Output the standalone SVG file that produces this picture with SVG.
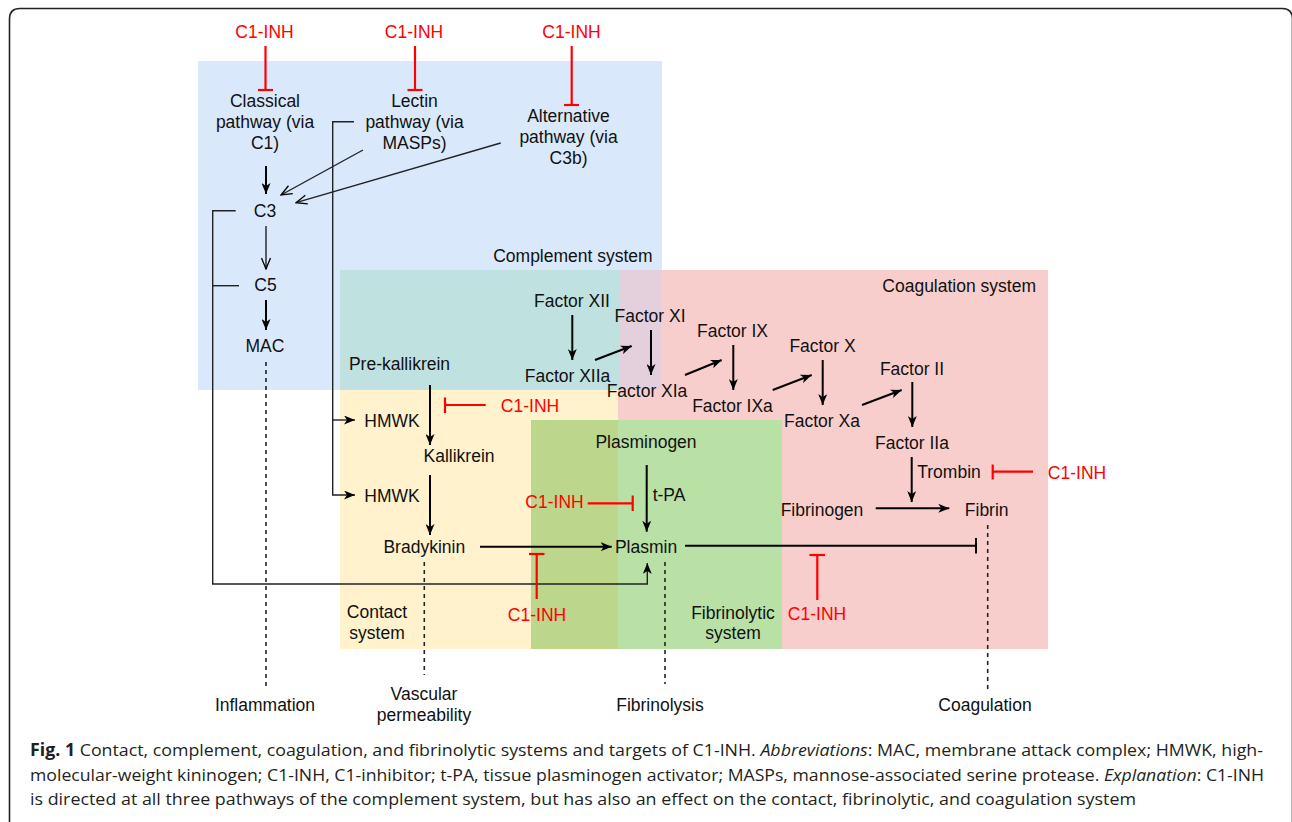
<svg xmlns="http://www.w3.org/2000/svg" width="1292" height="822" viewBox="0 0 1292 822">
<defs>
<marker id="a" viewBox="0 0 11 9" refX="11" refY="4.5" markerWidth="11" markerHeight="9" orient="auto" markerUnits="userSpaceOnUse"><path d="M0,0 L11,4.5 L0,9 L3,4.5 Z" fill="#000"/></marker>
<marker id="o" viewBox="-1 -1 13 11" refX="11" refY="4.5" markerWidth="13" markerHeight="11" orient="auto" markerUnits="userSpaceOnUse"><path d="M0,0 L11,4.5 L0,9" fill="none" stroke="#000" stroke-width="1.3"/></marker>
</defs>
<style>
.t{font-family:"Liberation Sans",Arial,sans-serif;font-size:17.5px;fill:#111;text-anchor:middle}
.r{fill:#ff0000}
.ln{stroke:#000;stroke-width:2;fill:none}
.thin{stroke:#222;stroke-width:1.4;fill:none}
.red{stroke:#ff0000;stroke-width:2.2;fill:none}
.dash{stroke:#222;stroke-width:1.6;stroke-dasharray:4,4;fill:none}
.cap{font-family:"Open Sans","Liberation Sans",sans-serif;font-size:17px;fill:#231f20}
</style>
<rect width="1292" height="822" fill="#fff"/>
<path d="M9.5,840 V19 Q9.5,8.5 20,8.5 H1282 Q1292.5,8.5 1292.5,19 V840" fill="none" stroke="#222" stroke-width="1.6"/>

<g id="regions">
<rect x="198" y="61" width="464" height="329" fill="#dae8fc"/>
<rect x="340" y="270" width="280" height="379" fill="#fff2cc"/>
<rect x="618" y="270" width="430" height="379" fill="#f8cecc"/>
<rect x="340" y="270" width="280" height="120" fill="#bfe1df"/>
<rect x="620" y="270" width="42" height="120" fill="#e4cfdc"/>
<rect x="531" y="420" width="251" height="229" fill="#b9e0a5"/>
<rect x="531" y="420" width="87" height="229" fill="#bcd78b"/>
</g>

<g id="connectors">
<line class="red" x1="265.5" y1="46" x2="265.5" y2="90"/><line class="red" x1="258" y1="90" x2="273" y2="90"/>
<line class="red" x1="415" y1="46" x2="415" y2="90"/><line class="red" x1="407.5" y1="90" x2="422.5" y2="90"/>
<line class="red" x1="571.7" y1="46" x2="571.7" y2="105"/><line class="red" x1="564" y1="105" x2="579" y2="105"/>
<line class="ln" x1="266" y1="166" x2="266" y2="194" marker-end="url(#a)"/>
<line class="thin" x1="363" y1="150" x2="281" y2="195" marker-end="url(#o)"/>
<line class="thin" x1="500.7" y1="143" x2="296" y2="202.7" marker-end="url(#o)"/>
<line class="thin" x1="266" y1="226" x2="266" y2="269" marker-end="url(#o)"/>
<line class="ln" x1="266" y1="300" x2="266" y2="330" marker-end="url(#a)"/>
<polyline class="thin" points="235.7,210.7 212.7,210.7 212.7,584 647.3,584 647.3,563" marker-end="url(#a)"/>
<line class="thin" x1="239" y1="285.7" x2="212.7" y2="285.7"/>
<polyline class="thin" points="354,121.7 332.7,121.7 332.7,495 355,495" marker-end="url(#a)"/>
<line class="thin" x1="332.7" y1="420" x2="355" y2="420" marker-end="url(#a)"/>
<line class="dash" x1="266" y1="362" x2="266" y2="688"/>
<line class="ln" x1="430" y1="385" x2="430" y2="445" marker-end="url(#a)"/>
<line class="ln" x1="430" y1="475" x2="430" y2="535" marker-end="url(#a)"/>
<line class="red" x1="485.7" y1="405" x2="445" y2="405"/><line class="red" x1="445" y1="397.5" x2="445" y2="413"/>
<line class="ln" x1="480" y1="546.7" x2="611.7" y2="546.7" marker-end="url(#a)"/>
<line class="red" x1="536.7" y1="599" x2="536.7" y2="554"/><line class="red" x1="529" y1="554" x2="544.5" y2="554"/>
<line class="dash" x1="424.3" y1="562" x2="424.3" y2="675"/>
<line class="ln" x1="646.7" y1="465" x2="646.7" y2="531.7" marker-end="url(#a)"/>
<line class="red" x1="587.7" y1="503.3" x2="632.7" y2="503.3"/><line class="red" x1="632.7" y1="495.5" x2="632.7" y2="511"/>
<line class="ln" x1="685" y1="545.7" x2="976" y2="545.7"/><line class="ln" x1="976" y1="538" x2="976" y2="553.5"/>
<line class="red" x1="817.3" y1="600" x2="817.3" y2="555"/><line class="red" x1="809.5" y1="555" x2="825" y2="555"/>
<line class="dash" x1="665" y1="562" x2="665" y2="684"/>
<line class="ln" x1="572.3" y1="315" x2="572.3" y2="360" marker-end="url(#a)"/>
<line class="ln" x1="595" y1="360" x2="631.7" y2="346" marker-end="url(#a)"/>
<line class="ln" x1="651" y1="330" x2="651" y2="375" marker-end="url(#a)"/>
<line class="ln" x1="685" y1="375" x2="721.7" y2="360" marker-end="url(#a)"/>
<line class="ln" x1="733.3" y1="345" x2="733.3" y2="390" marker-end="url(#a)"/>
<line class="ln" x1="772.7" y1="390" x2="811.7" y2="375" marker-end="url(#a)"/>
<line class="ln" x1="822.7" y1="360" x2="822.7" y2="405" marker-end="url(#a)"/>
<line class="ln" x1="862" y1="405" x2="901.7" y2="390" marker-end="url(#a)"/>
<line class="ln" x1="912.3" y1="382" x2="912.3" y2="427" marker-end="url(#a)"/>
<line class="ln" x1="911.7" y1="457" x2="911.7" y2="502" marker-end="url(#a)"/>
<line class="red" x1="1033" y1="471.7" x2="992.7" y2="471.7"/><line class="red" x1="992.7" y1="464.5" x2="992.7" y2="479.5"/>
<line class="ln" x1="875.7" y1="508.3" x2="949.3" y2="508.3" marker-end="url(#a)"/>
<line class="dash" x1="987.7" y1="525" x2="987.7" y2="690"/>
</g>

<g id="inh-classical"><text class="t r" x="264.5" y="38">C1-INH</text></g>
<g id="inh-lectin"><text class="t r" x="414" y="38">C1-INH</text></g>
<g id="inh-alternative"><text class="t r" x="571.5" y="38">C1-INH</text></g>
<g id="classical"><text class="t" x="265" y="107">Classical</text><text class="t" x="265" y="128">pathway (via</text><text class="t" x="265" y="149">C1)</text></g>
<g id="lectin"><text class="t" x="414.5" y="107">Lectin</text><text class="t" x="414.5" y="128">pathway (via</text><text class="t" x="414.5" y="149">MASPs)</text></g>
<g id="alternative"><text class="t" x="568.5" y="122">Alternative</text><text class="t" x="568.5" y="143">pathway (via</text><text class="t" x="568.5" y="164">C3b)</text></g>
<g id="c3"><text class="t" x="265" y="217">C3</text></g>
<g id="c5"><text class="t" x="265.5" y="291">C5</text></g>
<g id="mac"><text class="t" x="265" y="352">MAC</text></g>
<g id="complement-label"><text class="t" x="652.7" y="262" style="text-anchor:end">Complement system</text></g>
<g id="coagulation-label"><text class="t" x="1036" y="292" style="text-anchor:end">Coagulation system</text></g>
<g id="f12"><text class="t" x="572" y="307">Factor XII</text></g>
<g id="f12a"><text class="t" x="567.5" y="382">Factor XIIa</text></g>
<g id="f11"><text class="t" x="650" y="322">Factor XI</text></g>
<g id="f11a"><text class="t" x="647" y="397">Factor XIa</text></g>
<g id="f9"><text class="t" x="732.5" y="337">Factor IX</text></g>
<g id="f9a"><text class="t" x="732.5" y="412">Factor IXa</text></g>
<g id="f10"><text class="t" x="822.5" y="352">Factor X</text></g>
<g id="f10a"><text class="t" x="822" y="427">Factor Xa</text></g>
<g id="f2"><text class="t" x="912" y="375">Factor II</text></g>
<g id="f2a"><text class="t" x="912" y="449">Factor IIa</text></g>
<g id="trombin"><text class="t" x="949" y="478">Trombin</text></g>
<g id="inh-trombin"><text class="t r" x="1077" y="479">C1-INH</text></g>
<g id="fibrinogen"><text class="t" x="822" y="516">Fibrinogen</text></g>
<g id="fibrin"><text class="t" x="986.7" y="516">Fibrin</text></g>
<g id="prekallikrein"><text class="t" x="399.5" y="370">Pre-kallikrein</text></g>
<g id="inh-kallikrein"><text class="t r" x="530" y="412">C1-INH</text></g>
<g id="hmwk1"><text class="t" x="392" y="427">HMWK</text></g>
<g id="hmwk2"><text class="t" x="392" y="501.5">HMWK</text></g>
<g id="kallikrein"><text class="t" x="459" y="462">Kallikrein</text></g>
<g id="bradykinin"><text class="t" x="424.3" y="553">Bradykinin</text></g>
<g id="plasminogen"><text class="t" x="646" y="448.3">Plasminogen</text></g>
<g id="tpa"><text class="t" x="669" y="501">t-PA</text></g>
<g id="inh-tpa"><text class="t r" x="554.5" y="508">C1-INH</text></g>
<g id="plasmin"><text class="t" x="646" y="553.3">Plasmin</text></g>
<g id="inh-bottom1"><text class="t r" x="537" y="621">C1-INH</text></g>
<g id="inh-bottom2"><text class="t r" x="817" y="620">C1-INH</text></g>
<g id="contact-label"><text class="t" x="377" y="618">Contact</text><text class="t" x="377" y="638.5">system</text></g>
<g id="fibrinolytic-label"><text class="t" x="733" y="618.5">Fibrinolytic</text><text class="t" x="733" y="639">system</text></g>
<g id="inflammation"><text class="t" x="265" y="711">Inflammation</text></g>
<g id="vascular"><text class="t" x="424" y="700">Vascular</text><text class="t" x="424" y="721">permeability</text></g>
<g id="fibrinolysis"><text class="t" x="660" y="711">Fibrinolysis</text></g>
<g id="coagulation"><text class="t" x="985" y="711">Coagulation</text></g>

<g id="caption">
<text class="cap" x="30" y="756" textLength="1233" lengthAdjust="spacingAndGlyphs"><tspan font-weight="bold">Fig. 1</tspan> Contact, complement, coagulation, and fibrinolytic systems and targets of C1-INH. <tspan font-style="italic">Abbreviations</tspan>: MAC, membrane attack complex; HMWK, high-</text>
<text class="cap" x="30" y="781" textLength="1234" lengthAdjust="spacingAndGlyphs">molecular-weight kininogen; C1-INH, C1-inhibitor; t-PA, tissue plasminogen activator; MASPs, mannose-associated serine protease. <tspan font-style="italic">Explanation</tspan>: C1-INH</text>
<text class="cap" x="30" y="805" textLength="1106" lengthAdjust="spacingAndGlyphs">is directed at all three pathways of the complement system, but has also an effect on the contact, fibrinolytic, and coagulation system</text>
</g>
</svg>
